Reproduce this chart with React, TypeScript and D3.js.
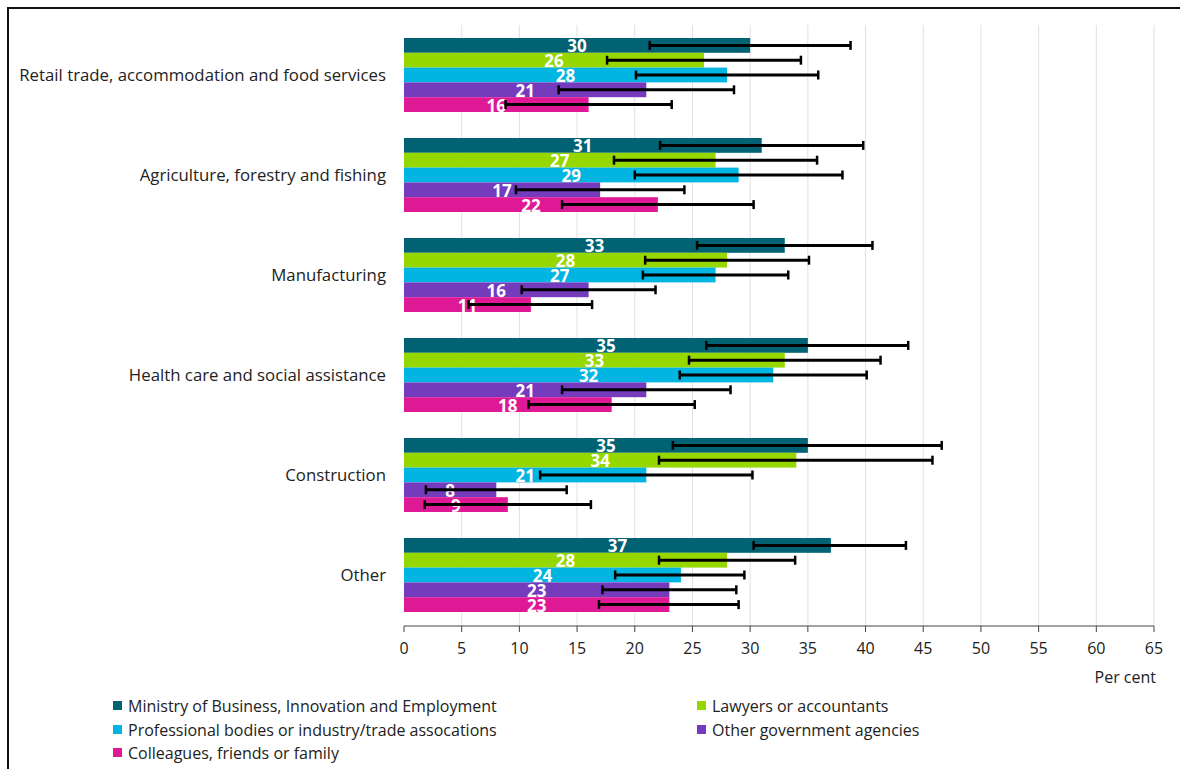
import React from "react";
import * as d3 from "d3";

const categories = [
  "Retail trade, accommodation and food services",
  "Agriculture, forestry and fishing",
  "Manufacturing",
  "Health care and social assistance",
  "Construction",
  "Other",
];

const seriesNames = [
  "Ministry of Business, Innovation and Employment",
  "Lawyers or accountants",
  "Professional bodies or industry/trade assocations",
  "Other government agencies",
  "Colleagues, friends or family",
];

const seriesColors = ["#006272", "#97D700", "#00B5E2", "#753BBD", "#DF1995"];

// values per series, in category order
const mbie = [30, 31, 33, 35, 35, 37];
const lawyers = [26, 27, 28, 33, 34, 28];
const professional = [28, 29, 27, 32, 21, 24];
const otherGov = [21, 17, 16, 21, 8, 23];
const colleagues = [16, 22, 11, 18, 9, 23];

// error bar lows and highs per series
const mbieLow = [21.3, 22.2, 25.4, 26.2, 23.3, 30.3];
const mbieHigh = [38.7, 39.8, 40.6, 43.7, 46.6, 43.5];
const lawyersLow = [17.6, 18.2, 20.9, 24.7, 22.1, 22.1];
const lawyersHigh = [34.4, 35.8, 35.1, 41.3, 45.8, 33.9];
const professionalLow = [20.1, 20.0, 20.7, 23.9, 11.8, 18.3];
const professionalHigh = [35.9, 38.0, 33.3, 40.1, 30.2, 29.5];
const otherGovLow = [13.4, 9.7, 10.2, 13.7, 1.9, 17.2];
const otherGovHigh = [28.6, 24.3, 21.8, 28.3, 14.1, 28.8];
const colleaguesLow = [8.8, 13.7, 5.6, 10.8, 1.8, 16.9];
const colleaguesHigh = [23.2, 30.3, 16.3, 25.2, 16.2, 29.0];

const xTicks = [0, 5, 10, 15, 20, 25, 30, 35, 40, 45, 50, 55, 60, 65];

const seriesValues = [mbie, lawyers, professional, otherGov, colleagues];
const seriesLow = [mbieLow, lawyersLow, professionalLow, otherGovLow, colleaguesLow];
const seriesHigh = [mbieHigh, lawyersHigh, professionalHigh, otherGovHigh, colleaguesHigh];

const FONT = "'Open Sans', sans-serif";

export default function App() {
  const W = 1180;
  const H = 769;
  const left = 404;
  const right = 1154;
  const top = 25;
  const bottom = 626;

  const x = d3.scaleLinear().domain([0, 65]).range([left, right]);
  const y0 = d3
    .scaleBand<string>()
    .domain(categories)
    .range([top, bottom - 1])
    .paddingInner(0.26)
    .paddingOuter(0.13);
  const y1 = d3
    .scaleBand<number>()
    .domain(d3.range(seriesNames.length))
    .range([0, y0.bandwidth()]);

  const legendItems = [
    { i: 0, x: 113, y: 706 },
    { i: 1, x: 697, y: 706 },
    { i: 2, x: 113, y: 730 },
    { i: 3, x: 697, y: 730 },
    { i: 4, x: 113, y: 753 },
  ];

  return (
    <svg
      width={W}
      height={H}
      style={{ position: "absolute", left: 0, top: 0, background: "#fff" }}
      fontFamily={FONT}
    >
      <rect x={0} y={0} width={W} height={H} fill="#fff" />
      {/* border */}
      <line x1={7} y1={8} x2={W} y2={8} stroke="#111" strokeWidth={2} />
      <line x1={8} y1={7} x2={8} y2={H} stroke="#111" strokeWidth={2} />

      {/* gridlines */}
      {xTicks.map((t) =>
        t === 0 ? null : (
          <line
            key={"g" + t}
            x1={x(t)}
            x2={x(t)}
            y1={top}
            y2={bottom}
            stroke="#e0e0e0"
            strokeWidth={1}
          />
        )
      )}

      {/* bars */}
      {categories.map((c, ci) => (
        <g key={c}>
          {seriesNames.map((s, si) => {
            const v = seriesValues[si][ci];
            const yy = (y0(c) as number) + (y1(si) as number);
            const h = y1.bandwidth();
            return (
              <rect
                key={s}
                x={x(0)}
                y={yy}
                width={x(v) - x(0)}
                height={h}
                fill={seriesColors[si]}
              />
            );
          })}
          {seriesNames.map((s, si) => {
            const v = seriesValues[si][ci];
            const yy = (y0(c) as number) + (y1(si) as number);
            const h = y1.bandwidth();
            return (
              <text
                key={"t" + s}
                x={(x(0) + x(v)) / 2}
                y={yy + h / 2 + 7}
                textAnchor="middle"
                fill="#fff"
                fontWeight="bold"
                fontSize={17}
              >
                {v}
              </text>
            );
          })}
          {seriesNames.map((s, si) => {
            const lo = seriesLow[si][ci];
            const hi = seriesHigh[si][ci];
            const cy = (y0(c) as number) + (y1(si) as number) + y1.bandwidth() / 2;
            return (
              <g key={"e" + s} stroke="#000">
                <line x1={x(lo)} x2={x(hi)} y1={cy} y2={cy} strokeWidth={3} />
                <line x1={x(lo)} x2={x(lo)} y1={cy - 4.5} y2={cy + 4.5} strokeWidth={2.5} />
                <line x1={x(hi)} x2={x(hi)} y1={cy - 4.5} y2={cy + 4.5} strokeWidth={2.5} />
              </g>
            );
          })}
          <text
            x={386}
            y={(y0(c) as number) + y0.bandwidth() / 2 + 6}
            textAnchor="end"
            fontSize={16.8}
            fill="#222"
          >
            {c}
          </text>
        </g>
      ))}

      {/* axis */}
      <line x1={left} x2={right} y1={bottom} y2={bottom} stroke="#444" strokeWidth={1} />
      {xTicks.map((t) => (
        <g key={"t" + t}>
          <line x1={x(t)} x2={x(t)} y1={bottom} y2={bottom + 6} stroke="#444" />
          <text x={x(t)} y={bottom + 28} textAnchor="middle" fontSize={16} fill="#222">
            {t}
          </text>
        </g>
      ))}
      <text x={right + 2} y={683} textAnchor="end" fontSize={16} fill="#222">
        Per cent
      </text>

      {/* legend */}
      {legendItems.map((li) => (
        <g key={"l" + li.i}>
          <rect x={li.x} y={li.y - 5} width={9} height={9} fill={seriesColors[li.i]} />
          <text x={li.x + 15} y={li.y + 5.5} fontSize={16} fill="#222">
            {seriesNames[li.i]}
          </text>
        </g>
      ))}
    </svg>
  );
}
